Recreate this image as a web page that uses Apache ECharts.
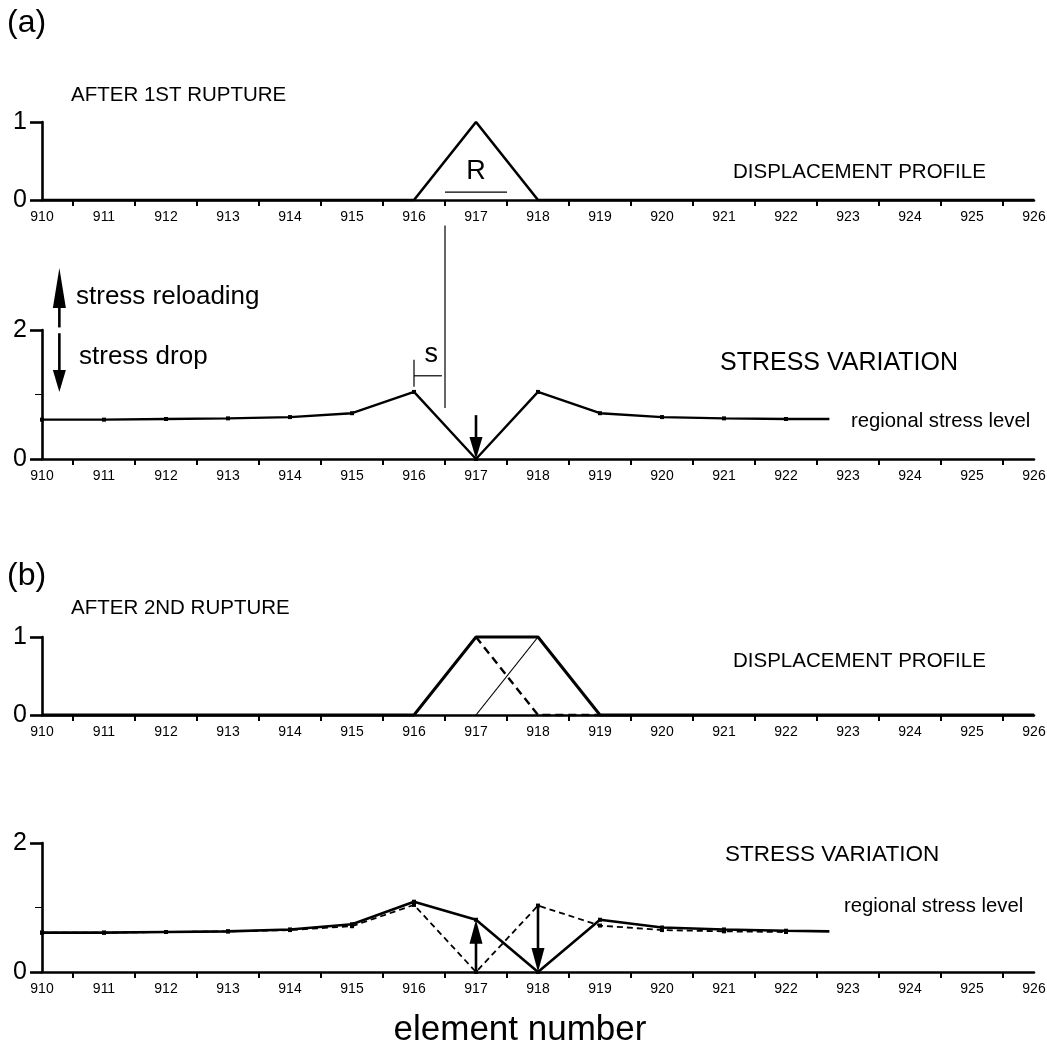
<!DOCTYPE html>
<html>
<head>
<meta charset="utf-8">
<script src="https://cdn.jsdelivr.net/npm/echarts@6/dist/echarts.min.js"></script>
<style>
html,body{margin:0;padding:0;background:#fff;}
#chart{width:1047px;height:1057px;}
</style>
</head>
<body>
<div id="chart"></div>
<script>
// ---------- DATA ----------
const tickLabels = [910,911,912,913,914,915,916,917,918,919,920,921,922,923,924,925,926];

// (a) after 1st rupture
const dispA_x = [910, 916, 917, 918, 926];
const dispA_y = [0, 0, 1, 0, 0];
const stressA_x = [910, 911, 912, 913, 914, 915, 916, 917, 918, 919, 920, 921, 922, 922.7];
const stressA_y = [0.61, 0.61, 0.62, 0.63, 0.65, 0.71, 1.04, 0, 1.04, 0.71, 0.65, 0.63, 0.62, 0.62];

// (b) after 2nd rupture
const dispB_x = [910, 916, 917, 918, 919, 926];
const dispB_y = [0, 0, 1, 1, 0, 0];
const dispBprev_x = [917, 918, 919];      // dashed: 1st rupture profile
const dispBprev_y = [1, 0, 0];
const dispBnew_x = [917, 918];            // thin: new increment
const dispBnew_y = [0, 1];
const stressB_x = [910, 911, 912, 913, 914, 915, 916, 917, 918, 919, 920, 921, 922, 922.7];
const stressB_y = [0.61, 0.61, 0.62, 0.63, 0.66, 0.74, 1.09, 0.81, 0, 0.81, 0.69, 0.66, 0.64, 0.63];
const stressBprev_x = [910, 911, 912, 913, 914, 915, 916, 917, 918, 919, 920, 921, 922];
const stressBprev_y = [0.61, 0.61, 0.62, 0.63, 0.65, 0.71, 1.04, 0, 1.03, 0.72, 0.65, 0.63, 0.62];

// annotation geometry in data units
const arrowsA = [[917, 0.68, 0], [910.28, 2.04, 2.96], [910.28, 1.95, 1.04]];
const arrowsA_head = [22, 40, 22];
const arrowsB = [[917, 0, 0.81], [918, 1.03, 0]];
const arrowsB_head = [24, 24];
const rBar_x = [916.5, 917.5], rBar_y = [0.1, 0.1];
const sTick_x = [916, 916], sTick_y = [1.12, 1.54];
const sBar_x = [916, 916.45], sBar_y = [1.29, 1.29];
const ruptureLine_x = [916.5, 916.5], ruptureLine_y = [0.79, 3.62];

// ---------- LAYOUT ----------
const FONT = 'Liberation Sans, Arial, Helvetica, sans-serif';
const zip = (xs, ys) => xs.map((x, i) => [x, ys[i]]);
const grids = [
  {top: 122, height: 78, ymax: 1},
  {top: 330, height: 129, ymax: 2},
  {top: 637, height: 78, ymax: 1},
  {top: 843, height: 129, ymax: 2}
];

const chart = echarts.init(document.getElementById('chart'), null, {renderer: 'canvas'});

const xAxes = grids.map((g, i) => ({
  type: 'value', gridIndex: i, min: tickLabels[0], max: tickLabels[tickLabels.length - 1], interval: 1,
  axisLine: {show: true, lineStyle: {color: '#000', width: 2.6}},
  axisTick: {show: false},
  minorTick: {show: true, splitNumber: 2, length: 6, lineStyle: {color: '#000', width: 2}},
  splitLine: {show: false}, minorSplitLine: {show: false},
  axisLabel: {color: '#000', fontSize: 14, fontFamily: FONT, margin: 10,
    showMinLabel: true, showMaxLabel: true,
    formatter: v => tickLabels.includes(v) ? String(v) : ''}
}));

const yAxes = grids.map((g, i) => ({
  type: 'value', gridIndex: i, min: 0, max: g.ymax, interval: g.ymax,
  axisLine: {show: true, lineStyle: {color: '#000', width: 2.6}},
  axisTick: {show: true, length: 12, lineStyle: {color: '#000', width: 2.6}},
  minorTick: {show: g.ymax === 2, splitNumber: 2, length: 7, lineStyle: {color: '#000', width: 1}},
  splitLine: {show: false}, minorSplitLine: {show: false},
  axisLabel: {color: '#000', fontSize: 25, fontFamily: FONT, margin: 15}
}));

function lineSeries(gi, data, width, type, symbols) {
  return {
    type: 'line', xAxisIndex: gi, yAxisIndex: gi, data: data,
    symbol: symbols ? 'rect' : 'none', symbolSize: 4, showSymbol: !!symbols,
    itemStyle: {color: '#000'},
    lineStyle: {color: '#000', width: width, type: type || 'solid', opacity: 1},
    silent: true, animation: false, clip: false, z: 3
  };
}
function markersOff(data) { // no marker on the end point of the curve
  return data.map((d, i) => i === data.length - 1 && d[0] % 1 !== 0 ? {value: d, symbol: 'none'} : d);
}
function arrowSeries(gi, data, heads) {
  return {
    type: 'custom', xAxisIndex: gi, yAxisIndex: gi, data: data, silent: true, animation: false, clip: false, z: 5,
    encode: {x: 0, y: 1},
    renderItem: function (params, api) {
      const x = api.value(0), a = api.value(1), b = api.value(2);
      const p0 = api.coord([x, a]), p1 = api.coord([x, b]);
      const dir = p1[1] > p0[1] ? 1 : -1;
      const hl = heads[params.dataIndex], hw = 13;
      const base = p1[1] - dir * hl;
      return {type: 'group', children: [
        {type: 'line', shape: {x1: p0[0], y1: p0[1], x2: p1[0], y2: base + dir * 2}, style: {stroke: '#000', lineWidth: 2.6}},
        {type: 'polygon', shape: {points: [[p1[0], p1[1]], [p1[0] - hw / 2, base], [p1[0] + hw / 2, base]]}, style: {fill: '#000'}}
      ]};
    }
  };
}
function textSeries(gi, pos, text, size) {
  return {
    type: 'scatter', xAxisIndex: gi, yAxisIndex: gi, data: [pos], symbolSize: 0, silent: true, animation: false, clip: false,
    itemStyle: {opacity: 1, color: '#000'},
    label: {show: true, position: 'inside', formatter: text, color: '#000', fontSize: size, fontFamily: FONT}
  };
}

const series = [
  // (a) displacement
  lineSeries(0, zip(dispA_x, dispA_y), 2.6),
  lineSeries(0, zip(rBar_x, rBar_y), 1.3),
  textSeries(0, [917, 0.36], 'R', 27),
  // (a) stress
  lineSeries(1, markersOff(zip(stressA_x, stressA_y)), 2.4, 'solid', true),
  lineSeries(1, zip(sTick_x, sTick_y), 1.2),
  lineSeries(1, zip(sBar_x, sBar_y), 1.2),
  lineSeries(1, zip(ruptureLine_x, ruptureLine_y), 1.2),
  textSeries(1, [916.28, 1.62], 's', 27),
  arrowSeries(1, arrowsA, arrowsA_head),
  // (b) displacement
  lineSeries(2, zip(dispB_x, dispB_y), 3),
  lineSeries(2, zip(dispBprev_x, dispBprev_y), 2.4, [8, 5]),
  lineSeries(2, zip(dispBnew_x, dispBnew_y), 1.2),
  // (b) stress
  lineSeries(3, zip(stressBprev_x, stressBprev_y), 1.8, [6, 4], true),
  lineSeries(3, markersOff(zip(stressB_x, stressB_y)), 2.6, 'solid', true),
  arrowSeries(3, arrowsB, arrowsB_head)
];

function txt(x, y, s, size, align) {
  return {type: 'text', x: x, y: y, silent: true,
    style: {text: s, fontSize: size, fontFamily: FONT, fill: '#000', align: align || 'left', verticalAlign: 'middle'}};
}

chart.setOption({
  backgroundColor: '#fff',
  animation: false,
  grid: grids.map(g => ({left: 42, width: 992, top: g.top, height: g.height, containLabel: false, outerBoundsMode: 'none'})),
  xAxis: xAxes,
  yAxis: yAxes,
  series: series,
  graphic: [
    txt(7, 23, '(a)', 32),
    txt(71, 95, 'AFTER 1ST RUPTURE', 20.5),
    txt(733, 172, 'DISPLACEMENT PROFILE', 20.5),
    txt(76, 297, 'stress reloading', 26),
    txt(79, 357, 'stress drop', 26),
    txt(720, 363, 'STRESS VARIATION', 25),
    txt(851, 421, 'regional stress level', 20.3),
    txt(7, 576, '(b)', 32),
    txt(71, 608, 'AFTER 2ND RUPTURE', 20.5),
    txt(733, 661, 'DISPLACEMENT PROFILE', 20.5),
    txt(725, 855, 'STRESS VARIATION', 22.5),
    txt(844, 906, 'regional stress level', 20.3),
    txt(520, 1030, 'element number', 35, 'center')
  ]
});
</script>
</body>
</html>
